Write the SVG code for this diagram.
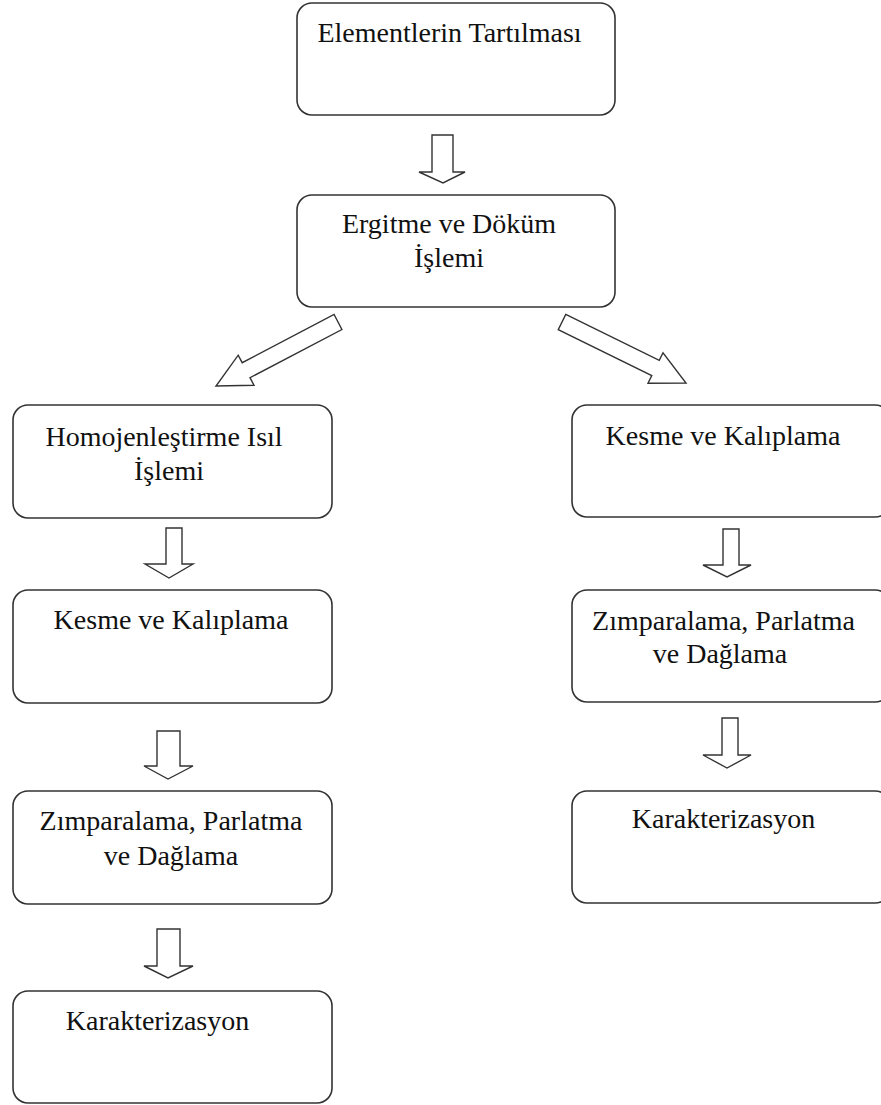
<svg xmlns="http://www.w3.org/2000/svg" width="881" height="1105" viewBox="0 0 881 1105">
<style>
.box{fill:#fff;stroke:#333;stroke-width:1.6}
.arr{fill:#fff;stroke:#333;stroke-width:1.4;stroke-linejoin:miter}
.t{font-family:'Liberation Serif','Times New Roman','DejaVu Serif',serif;font-size:28px;fill:#111;text-anchor:middle}
</style>
<rect width="881" height="1105" fill="#fff"/>
<g id="connectors">
<polygon class="arr" points="432,135 453,135 453,172 465,172 443,183 419,172 432,172"/>
<polygon class="arr" points="334.1,314.5 341.9,329.5 250,377.7 254,385.2 216,386 238.2,355.2 242.2,362.7"/>
<polygon class="arr" points="565.75,314.4 659.25,360.4 663,352.8 686,383 648,383.2 651.75,375.6 558.25,329.6"/>
<polygon class="arr" points="166,528 182,528 182,564 193,564 169,578 145,564 166,564"/>
<polygon class="arr" points="157,731 180,731 180,766 193,766 168,779 144,766 157,766"/>
<polygon class="arr" points="157,929 180,929 180,966 193,966 168,978 144,966 157,966"/>
<polygon class="arr" points="723,529 739,529 739,565 751,565 727,577 703,565 723,565"/>
<polygon class="arr" points="722,718 738,718 738,755 751,755 727,768 703,755 722,755"/>
</g>
<g id="n1"><rect class="box" x="297" y="3" width="318" height="112" rx="15"/><text class="t" font-family="Liberation Serif" x="449.5" y="42">Elementlerin Tartılması</text></g>
<g id="n2"><rect class="box" x="297" y="195" width="318" height="112" rx="15"/><text class="t" x="449" y="233">Ergitme ve Döküm</text><text class="t" x="449" y="267">İşlemi</text></g>
<g id="l1"><rect class="box" x="13" y="405" width="319" height="113" rx="15"/><text class="t" x="164" y="446">Homojenleştirme Isıl</text><text class="t" x="169" y="480">İşlemi</text></g>
<g id="l2"><rect class="box" x="13" y="590" width="319" height="113" rx="15"/><text class="t" x="171" y="629">Kesme ve Kalıplama</text></g>
<g id="l3"><rect class="box" x="13" y="791" width="319" height="113" rx="15"/><text class="t" x="171" y="830">Zımparalama, Parlatma</text><text class="t" x="171" y="865">ve Dağlama</text></g>
<g id="l4"><rect class="box" x="13" y="991" width="319" height="112" rx="15"/><text class="t" x="157.5" y="1030">Karakterizasyon</text></g>
<g id="r1"><rect class="box" x="572" y="405" width="318" height="112" rx="15"/><text class="t" x="723" y="445">Kesme ve Kalıplama</text></g>
<g id="r2"><rect class="box" x="572" y="590" width="318" height="112" rx="15"/><text class="t" x="723.5" y="630">Zımparalama, Parlatma</text><text class="t" x="720" y="663">ve Dağlama</text></g>
<g id="r3"><rect class="box" x="572" y="791" width="318" height="112" rx="15"/><text class="t" x="723.5" y="828">Karakterizasyon</text></g>
</svg>
